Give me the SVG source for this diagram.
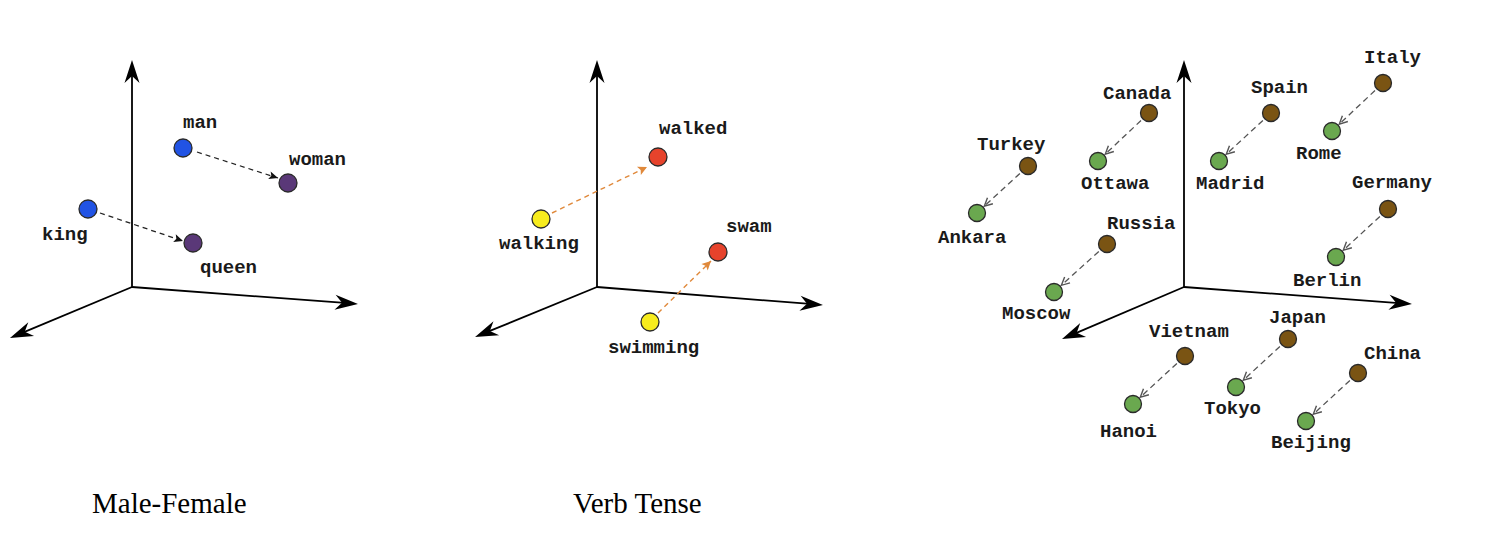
<svg xmlns="http://www.w3.org/2000/svg" width="1488" height="560" viewBox="0 0 1488 560">
<style>
.ax{stroke:#000;stroke-width:1.8;fill:none;marker-end:url(#axh)}
.lbl{font-family:"Liberation Mono","Courier New",monospace;font-size:19px;font-weight:bold;fill:#1a1a1a}
.cap{font-family:"Liberation Serif","Times New Roman",serif;font-size:29px;fill:#000}
.pt{stroke:#2a2a2a;stroke-width:1.3}
.blue{fill:#2153e4}.purple{fill:#5a3878}.red{fill:#e6432c}.yellow{fill:#f7ec1e}
.brown{fill:#7a5413}.green{fill:#6aa84f}
.dk{stroke:#222;stroke-width:1.3;stroke-dasharray:5 4;fill:none;marker-end:url(#hk)}
.or{stroke:#e0893b;stroke-width:1.4;stroke-dasharray:5 4;fill:none;marker-end:url(#ho)}
.gr{stroke:#555;stroke-width:1.3;stroke-dasharray:6 4;fill:none;marker-end:url(#hg)}
</style>
<defs>
<marker id="axh" markerUnits="userSpaceOnUse" viewBox="-14 -9 26 18" refX="0" refY="0" markerWidth="26" markerHeight="18" orient="auto">
<path d="M10,0 L-13,-7.5 L-6,0 L-13,7.5 Z" fill="#000"/>
</marker>
<marker id="hk" markerUnits="userSpaceOnUse" viewBox="-10 -6 12 12" refX="0" refY="0" markerWidth="12" markerHeight="12" orient="auto">
<path d="M0,0 L-9,-4 L-7,0 L-9,4 Z" fill="#111"/>
</marker>
<marker id="ho" markerUnits="userSpaceOnUse" viewBox="-10 -6 12 12" refX="0" refY="0" markerWidth="12" markerHeight="12" orient="auto">
<path d="M0,0 L-9,-4.5 L-7,0 L-9,4.5 Z" fill="#e0893b"/>
</marker>
<marker id="hg" markerUnits="userSpaceOnUse" viewBox="-11 -6 13 12" refX="0" refY="0" markerWidth="13" markerHeight="12" orient="auto">
<path d="M-8,-4 L0,0 L-8,4" fill="none" stroke="#555" stroke-width="1.4"/>
</marker>
</defs>
<rect width="1488" height="560" fill="#fff"/>

<g id="axes">
<path class="ax" d="M132,287 L132,70"/>
<path class="ax" d="M132,287 L348,303.2"/>
<path class="ax" d="M132,287 L19.2,334.1"/>
<path class="ax" d="M597,287 L597,70"/>
<path class="ax" d="M597,287 L813,304.2"/>
<path class="ax" d="M597,287 L484.3,333.2"/>
<path class="ax" d="M1184,287 L1184,70"/>
<path class="ax" d="M1184,287 L1402,303.3"/>
<path class="ax" d="M1184,287 L1071.2,335.1"/>
</g>

<g id="connectors">
<path class="dk" d="M197,152 L278,178"/>
<path class="dk" d="M100,213 L183,241"/>
<path class="or" d="M552,213 L647,167"/>
<path class="or" d="M658,313 L711,261"/>
<path class="gr" d="M1141,120.5 L1105.3,154.1"/>
<path class="gr" d="M1019.9,173.4 L984.3,206.2"/>
<path class="gr" d="M1262.9,120.5 L1226.3,154.2"/>
<path class="gr" d="M1375,90.5 L1339.3,124.1"/>
<path class="gr" d="M1379.9,216.5 L1343.3,250.2"/>
<path class="gr" d="M1098.8,251.4 L1061.4,285.3"/>
<path class="gr" d="M1176.9,363.5 L1140.3,397.2"/>
<path class="gr" d="M1279.9,346.5 L1243.3,380.2"/>
<path class="gr" d="M1349.9,380.5 L1313.3,414.2"/>
</g>

<g id="man"><circle class="pt blue" cx="183" cy="148" r="9"/><text class="lbl" x="183" y="128">man</text></g>
<g id="woman"><circle class="pt purple" cx="288" cy="183" r="9"/><text class="lbl" x="289" y="165">woman</text></g>
<g id="king"><circle class="pt blue" cx="88" cy="209" r="9"/><text class="lbl" x="42" y="240">king</text></g>
<g id="queen"><circle class="pt purple" cx="193" cy="243" r="9"/><text class="lbl" x="200" y="273">queen</text></g>

<g id="walked"><circle class="pt red" cx="658" cy="157" r="9"/><text class="lbl" x="659" y="134">walked</text></g>
<g id="walking"><circle class="pt yellow" cx="541" cy="219" r="9"/><text class="lbl" x="499" y="249">walking</text></g>
<g id="swam"><circle class="pt red" cx="718" cy="252" r="9"/><text class="lbl" x="726" y="232">swam</text></g>
<g id="swimming"><circle class="pt yellow" cx="650" cy="322" r="9"/><text class="lbl" x="608" y="353">swimming</text></g>

<g id="canada"><circle class="pt brown" cx="1149" cy="113" r="8.5"/><text class="lbl" x="1103" y="99">Canada</text></g>
<g id="ottawa"><circle class="pt green" cx="1098" cy="161" r="8.5"/><text class="lbl" x="1081" y="189">Ottawa</text></g>
<g id="turkey"><circle class="pt brown" cx="1028" cy="166" r="8.5"/><text class="lbl" x="977" y="150">Turkey</text></g>
<g id="ankara"><circle class="pt green" cx="977" cy="213" r="8.5"/><text class="lbl" x="938" y="243">Ankara</text></g>
<g id="spain"><circle class="pt brown" cx="1271" cy="113" r="8.5"/><text class="lbl" x="1251" y="93">Spain</text></g>
<g id="madrid"><circle class="pt green" cx="1219" cy="161" r="8.5"/><text class="lbl" x="1196" y="189">Madrid</text></g>
<g id="italy"><circle class="pt brown" cx="1383" cy="83" r="8.5"/><text class="lbl" x="1364" y="63">Italy</text></g>
<g id="rome"><circle class="pt green" cx="1332" cy="131" r="8.5"/><text class="lbl" x="1296" y="159">Rome</text></g>
<g id="germany"><circle class="pt brown" cx="1388" cy="209" r="8.5"/><text class="lbl" x="1352" y="188">Germany</text></g>
<g id="berlin"><circle class="pt green" cx="1336" cy="257" r="8.5"/><text class="lbl" x="1293" y="286">Berlin</text></g>
<g id="russia"><circle class="pt brown" cx="1107" cy="244" r="8.5"/><text class="lbl" x="1107" y="229">Russia</text></g>
<g id="moscow"><circle class="pt green" cx="1054" cy="292" r="8.5"/><text class="lbl" x="1002" y="319">Moscow</text></g>
<g id="vietnam"><circle class="pt brown" cx="1185" cy="356" r="8.5"/><text class="lbl" x="1149" y="337">Vietnam</text></g>
<g id="hanoi"><circle class="pt green" cx="1133" cy="404" r="8.5"/><text class="lbl" x="1100" y="437">Hanoi</text></g>
<g id="japan"><circle class="pt brown" cx="1288" cy="339" r="8.5"/><text class="lbl" x="1269" y="323">Japan</text></g>
<g id="tokyo"><circle class="pt green" cx="1236" cy="387" r="8.5"/><text class="lbl" x="1204" y="414">Tokyo</text></g>
<g id="china"><circle class="pt brown" cx="1358" cy="373" r="8.5"/><text class="lbl" x="1364" y="359">China</text></g>
<g id="beijing"><circle class="pt green" cx="1306" cy="421" r="8.5"/><text class="lbl" x="1271" y="448">Beijing</text></g>

<g id="captions">
<text class="cap" x="92" y="513">Male-Female</text>
<text class="cap" x="573" y="513">Verb Tense</text>
</g>
</svg>
